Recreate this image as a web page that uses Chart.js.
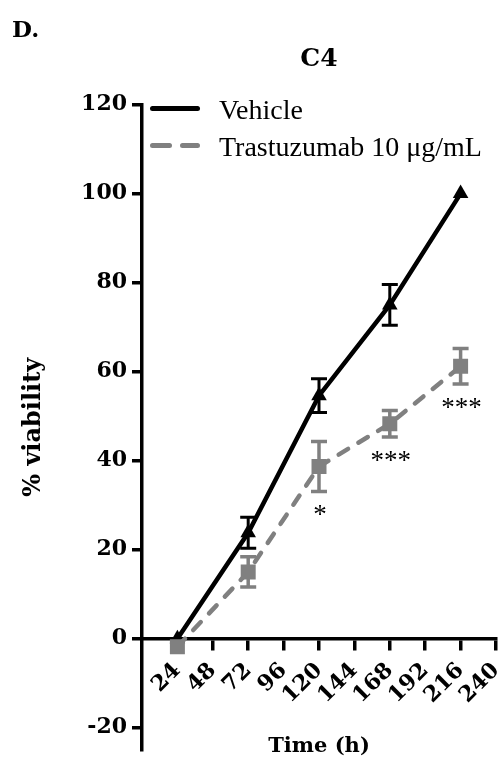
<!DOCTYPE html>
<html>
<head>
<meta charset="utf-8">
<script src="https://cdn.jsdelivr.net/npm/chart.js@4"></script>
<style>
  html, body { margin: 0; padding: 0; background: #ffffff; }
  #wrap { width: 501px; height: 765px; }
</style>
</head>
<body>
<div id="wrap"><canvas id="c" width="501" height="765"></canvas></div>
<script>
// ---- data ----
const times = [24, 72, 120, 168, 216];
const vehicle = [0, 23.8, 54.6, 75.0, 100];
const vehicleErr = [0, 3.5, 3.8, 4.6, 0];
const trastuzumab = [-1.8, 15.0, 38.7, 48.3, 61.2];
const trastuzumabErr = [0, 3.4, 5.6, 3.0, 4.0];
const significance = ['', '', '*', '***', '***'];
const xTicks = [24, 48, 72, 96, 120, 144, 168, 192, 216, 240];
const yTicks = [-20, 0, 20, 40, 60, 80, 100, 120];
const seriesLabels = ['Vehicle', 'Trastuzumab 10 \u03BCg/mL'];

const BLACK = '#000000';
const GREY = '#808080';
const BOLD = 'DejaVu Serif';
const REG = 'Liberation Serif';

const errors = [vehicleErr, trastuzumabErr];

const errorBarPlugin = {
  id: 'errorBars',
  afterDatasetsDraw(chart) {
    const {ctx} = chart;
    const xs = chart.scales.x, ys = chart.scales.y;
    chart.data.datasets.forEach((ds, i) => {
      const err = errors[i];
      ctx.save();
      ctx.strokeStyle = ds.borderColor;
      ctx.lineWidth = i === 0 ? 3 : 3.5;
      ctx.setLineDash([]);
      ds.data.forEach((p, j) => {
        if (!err[j]) return;
        const x = xs.getPixelForValue(p.x);
        const yt = ys.getPixelForValue(p.y + err[j]);
        const yb = ys.getPixelForValue(p.y - err[j]);
        ctx.beginPath();
        ctx.moveTo(x, yt); ctx.lineTo(x, yb);
        ctx.moveTo(x - 8, yt); ctx.lineTo(x + 8, yt);
        ctx.moveTo(x - 8, yb); ctx.lineTo(x + 8, yb);
        ctx.stroke();
      });
      ctx.restore();
    });
    // significance stars below the treated series
    ctx.save();
    ctx.fillStyle = BLACK;
    ctx.font = '27px "' + REG + '"';
    ctx.textAlign = 'center';
    ctx.textBaseline = 'alphabetic';
    significance.forEach((s, j) => {
      if (!s) return;
      const x = xs.getPixelForValue(times[j]);
      const yb = ys.getPixelForValue(trastuzumab[j] - trastuzumabErr[j]);
      ctx.fillText(s, x + 1, yb + 19 + 13);
    });
    ctx.restore();
  }
};

const legendPlugin = {
  id: 'insideLegend',
  afterDraw(chart) {
    const {ctx, chartArea} = chart;
    chart.data.datasets.forEach((ds, i) => {
      const y = chartArea.top + 4 + i * 37;
      const x0 = chartArea.left + 10.5;
      ctx.save();
      ctx.strokeStyle = ds.borderColor;
      ctx.lineWidth = 5;
      ctx.lineCap = 'round';
      ctx.setLineDash(i === 0 ? [] : [17, 13]);
      ctx.beginPath();
      ctx.moveTo(x0, y);
      ctx.lineTo(x0 + 45, y);
      ctx.stroke();
      ctx.setLineDash([]);
      ctx.fillStyle = BLACK;
      ctx.font = '28px "' + REG + '"';
      ctx.textAlign = 'left';
      ctx.textBaseline = 'alphabetic';
      ctx.fillText(ds.label, chartArea.left + 77, y + 10.5);
      ctx.restore();
    });
  }
};

new Chart(document.getElementById('c'), {
  type: 'line',
  data: {
    datasets: [
      {
        label: seriesLabels[0],
        data: times.map((t, i) => ({x: t, y: vehicle[i]})),
        borderColor: BLACK,
        backgroundColor: BLACK,
        borderWidth: 4.5,
        pointStyle: 'triangle',
        pointRadius: 9,
        pointBorderWidth: 0,
        tension: 0,
        order: 1
      },
      {
        label: seriesLabels[1],
        data: times.map((t, i) => ({x: t, y: trastuzumab[i]})),
        borderColor: GREY,
        backgroundColor: GREY,
        borderWidth: 4.5,
        borderDash: [11, 12],
        borderCapStyle: 'round',
        pointStyle: 'rect',
        pointRadius: 10.6,
        pointBorderWidth: 0,
        tension: 0,
        order: 0
      }
    ]
  },
  options: {
    responsive: false,
    animation: false,
    devicePixelRatio: 1,
    layout: { autoPadding: false, padding: { top: 0, left: 12, right: 5, bottom: 15 } },
    plugins: {
      legend: { display: false },
      tooltip: { enabled: false },
      subtitle: {
        display: true,
        text: 'D.',
        align: 'start',
        position: 'top',
        fullSize: true,
        weight: 2500,
        color: BLACK,
        font: { family: BOLD, size: 23, weight: 'bold', lineHeight: 1.2 },
        padding: { top: 17, bottom: 0 }
      },
      title: {
        display: true,
        text: 'C4',
        align: 'center',
        position: 'top',
        fullSize: false,
        weight: 2000,
        color: BLACK,
        font: { family: BOLD, size: 25, weight: 'bold', lineHeight: 1.2 },
        padding: { top: 0, bottom: 30 }
      }
    },
    scales: {
      x: {
        type: 'linear',
        position: { y: 0 },
        min: 0,
        max: 240,
        afterBuildTicks(scale) { scale.ticks = xTicks.map(v => ({value: v})); },
        afterFit(scale) { scale.paddingLeft = 0; scale.paddingRight = 0; scale.paddingTop = 0; scale.paddingBottom = 0; },
        ticks: {
          autoSkip: false,
          minRotation: 45,
          maxRotation: 45,
          padding: 9,
          color: BLACK,
          font: { family: BOLD, size: 22, weight: 'bold' }
        },
        grid: { drawOnChartArea: false, tickLength: 10, lineWidth: 3.5, color: BLACK },
        border: { display: true, color: BLACK, width: 3.5 },
        title: {
          display: true,
          text: 'Time (h)',
          color: BLACK,
          font: { family: BOLD, size: 21, weight: 'bold', lineHeight: 1.2 },
          padding: { top: 16, bottom: 0 }
        }
      },
      y: {
        type: 'linear',
        position: 'left',
        min: -25,
        max: 120,
        afterBuildTicks(scale) { scale.ticks = yTicks.map(v => ({value: v})); },
        afterFit(scale) { scale.width = 130; scale.paddingTop = 0; scale.paddingBottom = 0; },
        ticks: {
          padding: 5,
          color: BLACK,
          font: { family: BOLD, size: 22, weight: 'bold' }
        },
        grid: { drawOnChartArea: false, tickLength: 10, lineWidth: 3.5, color: BLACK },
        border: { display: true, color: BLACK, width: 3.5 },
        title: {
          display: true,
          text: '% viability',
          color: BLACK,
          font: { family: BOLD, size: 24, weight: 'bold', lineHeight: 1.2 },
          padding: { top: 7, bottom: 0 }
        }
      }
    }
  },
  plugins: [errorBarPlugin, legendPlugin]
});
</script>
</body>
</html>
